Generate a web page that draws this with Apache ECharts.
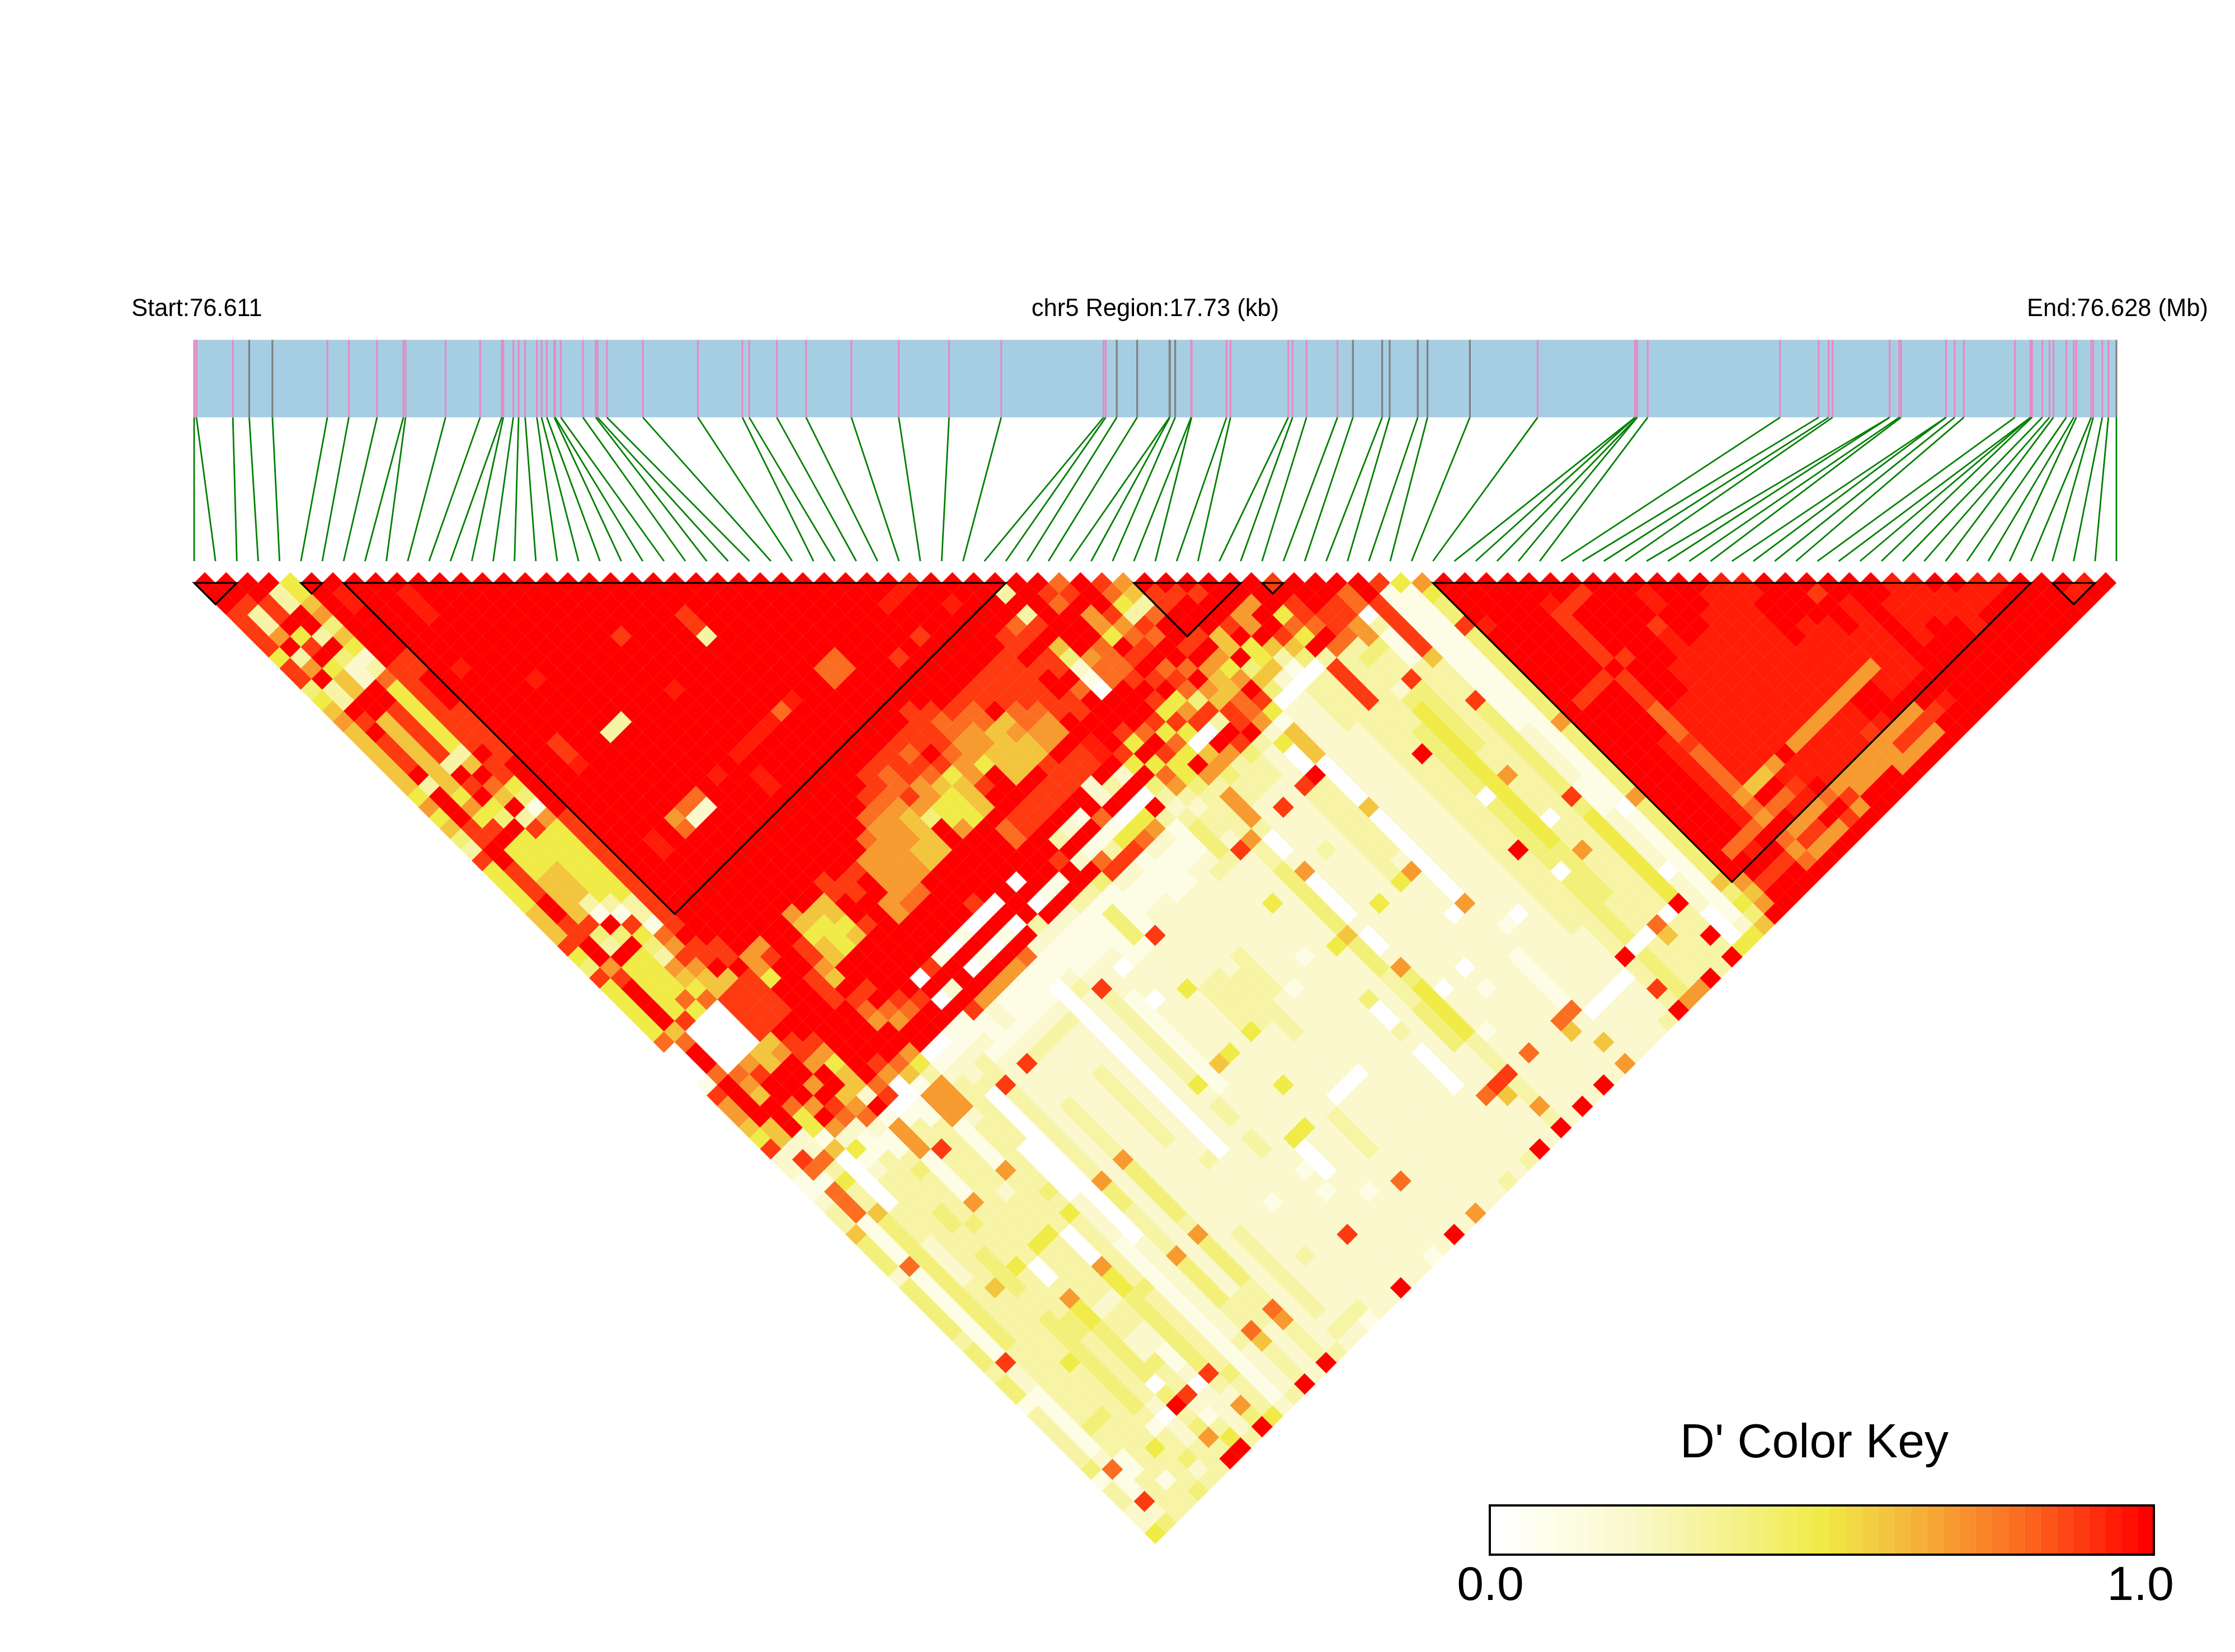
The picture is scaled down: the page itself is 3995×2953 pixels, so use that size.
<!DOCTYPE html>
<html><head><meta charset="utf-8"><style>html,body{margin:0;background:#fff}#c{width:3995px;height:2953px}</style>
<script src="https://cdn.jsdelivr.net/npm/echarts@6/dist/echarts.min.js"></script></head>
<body><div id="c"></div><script>
const regionKb = 17.73;
// SNP positions, kb from region start
const snpKb = [0,0.021,0.357,0.508,0.722,1.229,1.427,1.687,1.930,1.950,2.319,2.638,2.838,2.852,2.944,2.993,3.053,3.161,3.204,3.253,3.322,3.329,3.382,3.586,3.704,3.721,3.807,4.139,4.646,5.057,5.120,5.374,5.644,6.062,6.499,6.963,7.444,8.388,8.408,8.510,8.698,8.996,9.000,9.049,9.196,9.200,9.523,9.559,10.092,10.131,10.260,10.546,10.688,10.958,11.027,11.286,11.376,11.767,12.392,13.291,13.291,13.310,13.310,13.407,14.628,14.984,15.076,15.112,15.638,15.638,15.727,15.744,16.159,16.159,16.238,16.323,16.794,16.938,16.938,16.952,17.047,17.113,17.149,17.268,17.337,17.360,17.498,17.517,17.600,17.656,17.73];
// indices of the SNPs marked grey in the gene band; all others are pink
const greySnps = [3,4,39,40,41,42,43,52,53,54,55,56,57,90];
// LD blocks as [first SNP, last SNP]
const blocks = [[0,2],[5,6],[7,38],[44,49],[50,51],[58,86],[87,89]];
// D' per pair. Row = SNP i; groups hold SNP j in decades (j<10, 10-19, ... , 90).
// digit d = d/10, x = 0.95, a = 1.0
const dRows = [
"aaa999959 9456766666 6575643955 5566695495 5555800019 7765922112 3364442444 4434434413 3333413322 5",
"aa9337a3 7a33a9a999 a3aaa99aa9 99aa99aa79 aaaa68aa8a aaa6629818 8811118111 1111192211 1111281192 4",
"aa99a59 a566aa6666 6665759a55 56666943a5 5555900008 76aaa22835 3364444444 4444433333 3343311333 3",
"a33aa3 a422aa9999 93a9a54a55 566631a4a5 5558500007 9aa8551600 0003332222 3333333333 3343333313 3",
"55674 6523855555 536a86a395 5555531954 3765800006 6aaa7a7251 2333333333 3633333353 3333335333 4",
"aaaa aaaa999999 99a9954175 5555553318 7976699996 7aa7a98211 3333344334 4443344444 4444313342 3",
"axx aaaa99aaa9 9999aaaaa9 9999999999 a99a69999a 997aa67821 1343333433 3533334433 3333202233 3",
"aa aaaaaaaaaa aaaaaaaaaa aaaaaaaaaa aa99a9999a a975662a17 7711117333 3300375544 44404a3473 a",
"a aaaaaaaxaa aaaaaaaaaa aaaaaaaaaa aaaa775aaa aaaaaa8901 3393333333 3533333233 2243392135 a",
"axxxaaaaaa aaaaa99xaa aaaaxxaaaa aaaa79aaaa aaaaa97001 1333333233 3533333233 2211202222 3",
"aaaaaaaaa aaaaaaaaaa aaaaaaaaaa aaaaaaaa99 9aaaaa8617 7711117333 3300075544 4444493274 a",
"aaaaaaaa axaaaaaaaa aaaa78aaaa aaaaaa9976 a987aa7537 7723333334 3533333343 3333334333 5",
"aaaaaaa aaaaaaa3aa aaaa82aaaa aaaa76566a a9a87aa012 3333330000 0222211111 1111111111 2",
"aaaaaa aaaaaaa3aa aaaa82aaaa aaaaa6555a aaa98aa012 2300000000 0000002222 2222232222 3",
"aaaaa aaaaaaaaaa aaaaaaaaaa aaaaa6656a aaaa9aa112 3393333333 3744333374 4443386333 a",
"aaaa aaaaaaaaaa aaaaxaaaaa aaaa99aa9a aaa0a0a112 1222222222 2222222222 2223332222 2",
"aaa aaaaaaaaaa aaaaaaaaaa aaaaa99aaa aaa9a2a911 1292223333 3744444374 4443387333 a",
"aa aaa9aaaaxa aaaaxaxxaa aaaaa9aa77 aaa1aaa722 1232222222 2222222222 2222222222 3",
"a aaaaaaaaaa aaaaxaaaaa aaaaa77778 aaa0a0a711 1232222222 2222222222 3333333323 2",
"aaaaaaaaaa aaaaxaaaaa aaaa877778 aaa1a1a711 1232223333 3332222222 2222222223 2",
"aaaaaaaaa aaaaxaaaaa aaa877777a aaa0a0a711 1232222222 2222232222 2222322223 1",
"aaa993aa aaaa8aaaaa aa9877766a aa90a1a811 0000000000 0000002222 1222222222 2",
"aaaaaaa aaaaxaaaaa a99876666a aaa0a0a211 2322222222 2222222222 2222222222 2",
"aaaaaa aaaaaaaaaa a988974aaa aaaaaa3211 1293333333 3523323322 2222292222 a",
"aaaaa aaaaaaaaaa a99977557a aaa0a0a211 1222111111 1112222222 1212222222 2",
"aaaa aaaa88aaaa a98986555a aaaaa1a211 1202202222 2622222250 0022222222 2",
"aaa aaaa88aaaa a99a95666a 88aaa1a311 1112222222 2522222252 2222122222 1",
"aa aaaaaaaaaa 99998779aa 99aa9aa314 4412225222 2222252222 2222222222 2",
"a aaaaaaaaaa a988775aaa 99a3a2a411 1192222333 3522222223 3332282222 a",
"aaaaaaa9aa aa9877666a 99a2a18921 1222222333 3322222202 2222222222 2",
"aaaaaaaaa aa9886666a 99a1a13921 1222222233 3333222202 2222222222 7",
"aaxaa9aa aa99a67669 99aa815911 1122222333 3222222202 2222222222 2",
"axaaaaa aa9998877a 9922a05821 1122222222 2122222222 2222222222 2",
"xaaaaa aa9999877a 99a3a05721 1222222222 2222222222 2222222222 3",
"aaxaa aa999999aa xxa2a0a311 1232222222 1222222222 2222222222 2",
"aaaa a99a9aa99a aa95a43234 4432225222 2222240032 0000222222 3",
"aaa a89a99a8aa a95a587323 3292222222 2522222222 2222282222 a",
"a3 a39a64210a aa8a955433 3373344444 4644433344 4422296222 2",
"a aaaaaa788a aa9585a737 7730027000 0200274555 5533393373 a",
"a98aaa8889 a959506743 3222222222 2222222202 2212222222 2",
"89a775a9a 9a5790a733 3292223222 2522222222 2222282222 a",
"aaa9789a 898493a943 3222222222 2222222202 1222222222 2",
"985398a a8a7699a32 2293333333 3522222222 2222222222 a",
"7638aa 9a76688725 00a3333333 2722202222 2222286222 2",
"a99aa 9a757a9516 6600006000 0000072222 1111182262 7",
"a9aa a66a464022 2222222222 2222222212 2222220222 2",
"a9a a9a5562022 2222222222 2222222202 2222220222 2",
"aa a77a631033 3322222222 2222222222 2222220222 2",
"a a7aa964033 3333333333 3333333333 3322220222 3",
"aaa585a399 993333a333 33333a3333 33333a3393 a",
"9a998a833 3333344444 4044444404 4444404444 7",
"aaa99834 3324555555 5555555444 4433303333 7",
"aa99774 3394444443 3733303373 3333386333 a",
"a88031 1133333333 3333333333 3333303333 3",
"aa999 9963339444 4444494555 55555a33a3 a",
"9111 1111111111 2222211122 2220222000 5",
"511 1111111111 1111111101 1111111112 5",
"75 4494444444 4744444474 4444446454 6",
"a aaaxaaaaaa aaaaaaaaaa aaaaaaa767 a",
"aaaaaaaaaa a9aaaaaaaa aaaaa8aa9a a",
"aaaaaaaaa a9aaaaaaaa aaaaa8xa9a a",
"aaaaaaaa a9aaaaaxxx xxxxx8aa9a a",
"aax9999 9a99988898 888787a878 a",
"aa9aaa a9aaaaxxxx xxx6a8a797 a",
"a9aaa aaaaaaxxxx xxx6a8x797 a",
"aaaa aaaaxxxxxx xxx7x9x7a7 a",
"aaa a9xxxxxxxx xxxaxxa8a9 a",
"ax xaaaxxxxxx xxx7xxx797 a",
"a aaaaxxxxxx xxx7xxx77a a",
"aaaxxxxxxx xxx7xxx77a a",
"axxxxxxxx xxx7xxx77a a",
"xxxxxxxx xxx7xx9777 a",
"xxaaaaxx xxx7aax797 a",
"aaaaxx xxx7aaa797 a",
"aaaax xxx7xxa797 a",
"a9aa axxxxxaa9a a",
"aax xxxxxxaaxa a",
"aa aaaaaaaaaa a",
"a axxxxaaaaa a",
"xxxxaaaaaa a",
"xxxxaaaaa a",
"axxxxaaa a",
"axxaaaa a",
"xxaaaa a",
"xaaaa a",
"aaaa a",
"aaa a",
"ax a",
"x a",
"a"
];
const keyLevels = [0,0.025,0.05,0.075,0.1,0.125,0.15,0.175,0.2,0.225,0.25,0.275,0.3,0.325,0.35,0.375,0.4,0.425,0.45,0.475,0.5,0.525,0.55,0.575,0.6,0.625,0.65,0.675,0.7,0.725,0.75,0.775,0.8,0.825,0.85,0.875,0.9,0.925,0.95,0.975,1];
const keyTicks = ['0.0','1.0'];
const title = "D' Color Key";
const labels = {start:'Start:76.611', mid:'chr5 Region:17.73 (kb)', end:'End:76.628 (Mb)'};

const charValue = c => c==='a' ? 1 : c==='x' ? 0.95 : (+c)/10;
const cells = [];
dRows.forEach((row,i)=>{
  let decade = Math.floor((i+1)/10);
  row.split(' ').forEach((g,n)=>{
    const start = n===0 ? i+1 : (decade+n)*10;
    [...g].forEach((c,k)=>{
      const j = start+k;
      if (j>90) return;
      cells.push([(i+j)/2, j-i-1, charValue(c)]);
    });
  });
});
const BAND_TOP=-22.76, BAND_BOTTOM=-15.5, LINK_BOTTOM=-2.04;
const kbToAxis = kb => kb/regionKb*(snpKb.length-1);
const chart = echarts.init(document.getElementById('c'),null,{renderer:'canvas'});
const font = 'Liberation Sans, Arial, sans-serif';
const txt=(t,x,y,size,align)=>({type:'text',x,y,silent:true,style:{text:t,fill:'#000',font:size+'px '+font,textAlign:align,textVerticalAlign:'middle'}});
chart.setOption({
  animation:false, backgroundColor:'#fff',
  grid:[
    {left:347,top:607.5,width:3436,height:2152.6,show:false},
    {left:2663,top:2691,width:1187,height:88,show:false}
  ],
  xAxis:[
    {type:'value',gridIndex:0,min:0,max:90,show:false},
    {type:'value',gridIndex:1,min:0,max:41,show:false}
  ],
  yAxis:[
    {type:'value',gridIndex:0,min:BAND_TOP,max:90,inverse:true,show:false},
    {type:'value',gridIndex:1,min:0,max:1,show:false}
  ],
  visualMap:{show:false,type:'continuous',min:0,max:1,dimension:2,seriesIndex:[0,5],
    inRange:{color:['#ffffff','#fdfde6','#faf8cc','#f7f4a6','#f3f07a','#f0eb46','#f3c53e','#f79a30','#fb6e22','#fe3a10','#ff0000']}},
  series:[
    {type:'custom',coordinateSystem:'cartesian2d',xAxisIndex:0,yAxisIndex:0,data:cells,silent:true,z:2,
      encode:{x:0,y:1},
      renderItem(p,api){
        const x=api.value(0),y=api.value(1),col=api.visual('color');
        const pts=[[x-.5,y],[x,y-1],[x+.5,y],[x,y+1]].map(q=>api.coord(q));
        return {type:'polygon',shape:{points:pts},style:{fill:col,stroke:col,lineWidth:0.4}};
      }},
    {type:'custom',xAxisIndex:0,yAxisIndex:0,data:[[0]],silent:true,z:1,encode:{x:0},
      renderItem(p,api){
        const a=api.coord([0,BAND_TOP]),b=api.coord([90,BAND_BOTTOM]);
        return {type:'rect',shape:{x:a[0],y:a[1],width:b[0]-a[0],height:b[1]-a[1]},style:{fill:'#a6cee3'}};
      }},
    {type:'custom',xAxisIndex:0,yAxisIndex:0,data:snpKb.map((k,i)=>[kbToAxis(k),i]),silent:true,z:2,encode:{x:0},
      renderItem(p,api){
        const x=api.value(0),i=api.value(1);
        const a=api.coord([x,BAND_TOP]),b=api.coord([x,BAND_BOTTOM]);
        return {type:'line',shape:{x1:a[0],y1:a[1],x2:b[0],y2:b[1]},style:{stroke:greySnps.includes(i)?'#808080':'#e78ac3',lineWidth:3.2}};
      }},
    {type:'custom',xAxisIndex:0,yAxisIndex:0,data:snpKb.map((k,i)=>[kbToAxis(k),i]),silent:true,z:2,encode:{x:0},
      renderItem(p,api){
        const a=api.coord([api.value(0),BAND_BOTTOM]),b=api.coord([api.value(1),LINK_BOTTOM]);
        return {type:'line',shape:{x1:a[0],y1:a[1],x2:b[0],y2:b[1]},style:{stroke:'#008000',lineWidth:2.8}};
      }},
    {type:'custom',xAxisIndex:0,yAxisIndex:0,data:blocks,silent:true,z:4,encode:{x:0},
      renderItem(p,api){
        const s=api.value(0),e=api.value(1);
        const pts=[[s,0],[e,0],[(s+e)/2,e-s]].map(q=>api.coord(q));
        return {type:'polygon',shape:{points:pts},style:{fill:'none',stroke:'#000',lineWidth:3.2}};
      }},
    {type:'custom',xAxisIndex:1,yAxisIndex:1,data:keyLevels.map((v,i)=>[i,0,v]),silent:true,z:3,encode:{x:0,y:1},
      renderItem(p,api){
        const i=api.value(0),col=api.visual('color');
        const a=api.coord([i,1]),b=api.coord([i+1,0]);
        return {type:'rect',shape:{x:a[0],y:a[1],width:b[0]-a[0],height:b[1]-a[1]},style:{fill:col,stroke:col,lineWidth:0.3}};
      }},
    {type:'custom',xAxisIndex:1,yAxisIndex:1,data:[[0]],silent:true,z:4,encode:{x:0},
      renderItem(p,api){
        const a=api.coord([0,1]),b=api.coord([41,0]);
        return {type:'rect',shape:{x:a[0],y:a[1],width:b[0]-a[0],height:b[1]-a[1]},style:{fill:'none',stroke:'#000',lineWidth:4}};
      }}
  ],
  graphic:{elements:[
    txt(labels.start,235,553,43.5,'left'),
    txt(labels.mid,2065,553,43.5,'center'),
    txt(labels.end,3623,553,43.5,'left'),
    txt(title,3243,2581,86,'center'),
    txt(keyTicks[0],2664,2836,86,'center'),
    txt(keyTicks[1],3826,2836,86,'center')
  ]}
});
</script></body></html>
